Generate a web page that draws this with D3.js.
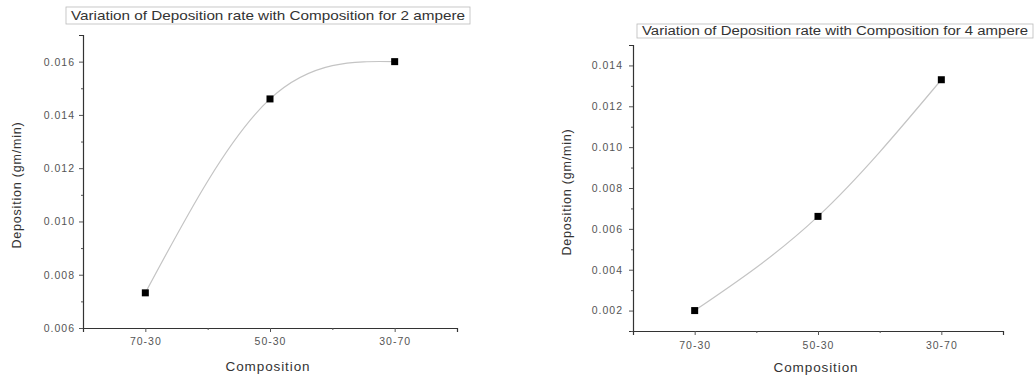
<!DOCTYPE html>
<html><head><meta charset="utf-8">
<script src="https://cdn.jsdelivr.net/npm/d3@7"></script>
<style>body{margin:0;background:#fff}svg{display:block}</style>
</head><body>
<svg id="c" width="1035" height="376"></svg>
<script>
const categories = ["70-30", "50-30", "30-70"];
const deposition2A = [0.00732, 0.0146, 0.0160];
const deposition4A = [0.0020, 0.00661, 0.0133];
const yTicks2A = [0.006, 0.008, 0.010, 0.012, 0.014, 0.016];
const yTicks4A = [0.002, 0.004, 0.006, 0.008, 0.010, 0.012, 0.014];
const titles = ["Variation of Deposition rate with Composition for 2 ampere",
                "Variation of Deposition rate with Composition for 4 ampere"];
const xTitle = "Composition";
const yTitle = "Deposition (gm/min)";

const svg = d3.select("#c");
const font = "Liberation Sans, Arial, sans-serif";

function chart(opt) {
  const g = svg.append("g");
  const x = d3.scaleLinear().domain([0.5, categories.length + 0.5]).range([opt.x0, opt.x1]);
  const y = d3.scaleLinear().domain(opt.yDomain).range([opt.y1, opt.y0]);
  // title box
  g.append("rect").attr("x", opt.tb[0]).attr("y", opt.tb[1]).attr("width", opt.tb[2]).attr("height", opt.tb[3])
    .attr("fill", "#fff").attr("stroke", "#bbb").attr("stroke-width", 0.8);
  g.append("text").attr("x", opt.tb[0] + opt.tb[2] / 2).attr("y", opt.tb[1] + opt.tb[3] - opt.tbb)
    .attr("text-anchor", "middle").attr("font-family", font).attr("font-size", opt.tfs).attr("fill", "#333")
    .attr("textLength", opt.tb[2] - 10).attr("lengthAdjust", "spacingAndGlyphs").text(opt.title);
  // y axis
  g.append("g").attr("transform", `translate(${opt.x0},0)`)
    .call(d3.axisLeft(y).tickValues(opt.yTicks).tickFormat(d3.format(".3f")).tickSize(4).tickPadding(opt.ypad));
  const minors = [];
  for (let i = 0; i < opt.yTicks.length; i++) {
    const m = opt.yTicks[i] + opt.step / 2;
    if (m < opt.yDomain[1]) minors.push(m);
    if (i === 0 && opt.yTicks[0] - opt.step / 2 >= opt.yDomain[0] - 1e-9) minors.push(opt.yTicks[0] - opt.step / 2);
  }
  g.append("g").attr("transform", `translate(${opt.x0},0)`)
    .call(d3.axisLeft(y).tickValues(minors).tickFormat("").tickSize(2)).select(".domain").remove();
  // x axis
  g.append("g").attr("transform", `translate(0,${opt.y1})`)
    .call(d3.axisBottom(x).tickValues(categories.map((c, i) => i + 1)).tickFormat((d, i) => categories[i]).tickSize(4).tickPadding(opt.xpad));
  g.append("g").attr("transform", `translate(0,${opt.y1})`)
    .call(d3.axisBottom(x).tickValues(d3.range(1.5, categories.length, 1)).tickFormat("").tickSize(2)).select(".domain").remove();
  g.selectAll(".domain").attr("stroke", "#333").attr("stroke-width", 1.2);
  g.selectAll(".tick line").attr("stroke", "#555");
  g.selectAll(".tick text").attr("font-family", font).attr("font-size", 10.5).attr("letter-spacing", 1).attr("fill", "#555");
  // axis titles
  g.append("text").attr("x", (opt.x0 + opt.x1) / 2 - 2).attr("y", opt.xl).attr("text-anchor", "middle")
    .attr("font-family", font).attr("font-size", 13.5).attr("letter-spacing", 0.9).attr("fill", "#333").text(xTitle);
  g.append("text").attr("transform", `translate(${opt.yl[0]},${opt.yl[1]}) rotate(-90)`).attr("text-anchor", "middle")
    .attr("font-family", font).attr("font-size", 12.5).attr("letter-spacing", 0.8).attr("fill", "#333").text(yTitle);
  // curve
  const pts = opt.values.map((v, i) => [x(i + 1), y(v)]);
  g.append("path").attr("d", d3.line().curve(d3.curveNatural)(pts)).attr("fill", "none")
    .attr("stroke", "#c4c4c4").attr("stroke-width", 1.2);
  g.selectAll("rect.pt").data(pts).join("rect").attr("class", "pt")
    .attr("x", d => d[0] - 3.5).attr("y", d => d[1] - 3.5).attr("width", 7).attr("height", 7).attr("fill", "#000");
}

chart({x0: 83, x1: 457, y0: 35, y1: 328, yDomain: [0.006, 0.017], yTicks: yTicks2A, step: 0.002,
  values: deposition2A, title: titles[0], tb: [66, 7, 404, 17], tbb: 4, tfs: 13, yl: [21, 185], xl: 371, ypad: 4, xpad: 6});
chart({x0: 633, x1: 1003, y0: 45, y1: 331, yDomain: [0.001, 0.015], yTicks: yTicks4A, step: 0.002,
  values: deposition4A, title: titles[1], tb: [637, 24, 396, 14], tbb: 3, tfs: 12.5, yl: [571, 192], xl: 372, ypad: 6, xpad: 7});
</script>
</body></html>
